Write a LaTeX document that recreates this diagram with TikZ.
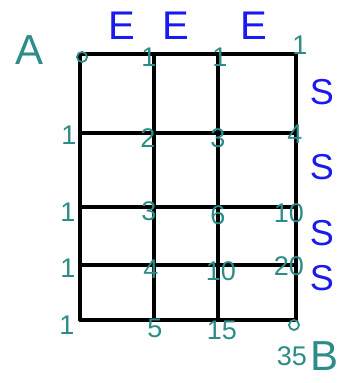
\documentclass[tikz,border=0pt]{standalone}
\usepackage{fontspec}
\setmainfont{Liberation Sans}
\usetikzlibrary{positioning}
\definecolor{tinta}{RGB}{45,140,135}
\definecolor{azul}{RGB}{25,25,240}

\begin{document}
\begin{tikzpicture}[
        x=1pt, y=-1pt,
        rejilla/.style={line width=3.4pt, line cap=round},
        cuenta/.style={text=tinta, inner sep=0pt, font=\fontsize{27}{27}\selectfont},
        rumbo/.style={text=azul, inner sep=0pt, font=\fontsize{40}{40}\selectfont},
        sur/.style={text=azul, inner sep=0pt, font=\fontsize{36}{36}\selectfont},
        punta/.style={text=tinta, inner sep=0pt, font=\fontsize{42}{42}\selectfont},
        marca/.style={draw=tinta, circle, line width=1.8pt, minimum size=10pt, inner sep=0pt}
    ]
        \useasboundingbox (0,0) rectangle (344,383);
        % puntos de la rejilla
        \foreach \x [count=\i] in {80,154,218,296}
            \foreach \y [count=\j] in {54,133,207,265,320}
                \coordinate (g-\i-\j) at (\x,\y);
        \foreach \j in {1,...,5}
            \draw[rejilla] (g-1-\j) -- (g-4-\j);
        \foreach \i in {1,...,4}
            \draw[rejilla] (g-\i-1) -- (g-\i-5);

        % extremos
        \node[marca] (ini) at (82,57) {};
        \node[marca] (fin) at (294,325) {};
        \node[punta] (A) at (30,50) {A};
        \node[cuenta] (n35) at (292,356) {35};
        \node[punta, right=3pt of n35] (B) {B};

        % direcciones
        \node[rumbo] (e1) at (122,26) {E};
        \node[rumbo] (e2) at (176,26) {E};
        \node[rumbo] (e3) at (254,26) {E};
        \node[sur] (s1) at (322,92) {S};
        \node[sur] (s2) at (322,167) {S};
        \node[sur] (s3) at (322,233) {S};
        \node[sur] (s4) at (322,278) {S};

        % caminos por esquina
        \node[cuenta] (c21) at (149,57) {1};
        \node[cuenta] (c31) at (220,57) {1};
        \node[cuenta] (c41) at (300,45) {1};
        \node[cuenta] (c12) at (69,135) {1};
        \node[cuenta] (c22) at (148,138) {2};
        \node[cuenta] (c32) at (218,138) {3};
        \node[cuenta] (c42) at (295,134) {4};
        \node[cuenta] (c13) at (68,212) {1};
        \node[cuenta] (c23) at (149,211) {3};
        \node[cuenta] (c33) at (218,215) {6};
        \node[cuenta] (c43) at (289,213) {10};
        \node[cuenta] (c14) at (68,268) {1};
        \node[cuenta] (c24) at (151,269) {4};
        \node[cuenta] (c34) at (221,271) {10};
        \node[cuenta] (c44) at (289,266) {20};
        \node[cuenta] (c15) at (67,325) {1};
        \node[cuenta] (c25) at (155,328) {5};
        \node[cuenta] (c35) at (222,330) {15};
    \end{tikzpicture}
\end{document}
